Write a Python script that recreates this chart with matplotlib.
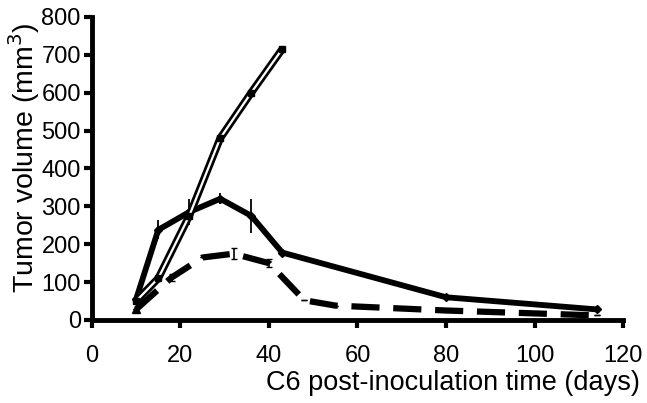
import numpy as np
import matplotlib.pyplot as plt

plt.rcParams['font.family'] = ['Liberation Sans', 'DejaVu Sans']

# control group (double line)
days_ctrl = [10, 15, 22, 29, 36, 43]
vol_ctrl = [50, 110, 275, 480, 600, 715]

# treated group 1 (solid)
days_t1 = [10, 15, 22, 29, 36, 43, 80, 114]
vol_t1 = [55, 238, 285, 320, 275, 178, 60, 28]
err_t1 = [0, 25, 35, 14, 45, 0, 0, 0]

# treated group 2 (dashed)
days_t2 = [10, 18, 25, 32, 40, 48, 55, 80, 114]
vol_t2 = [28, 112, 165, 175, 150, 52, 38, 25, 12]
err_t2 = [0, 10, 0, 15, 10, 0, 0, 0, 0]

fig = plt.figure(figsize=(6.47, 4.03), dpi=100)
ax = fig.add_axes([0.142, 0.206, 0.821, 0.752])

# double line: thick black with white core
ax.plot(days_ctrl, vol_ctrl, '-', color='black', lw=5.5, solid_capstyle='butt', zorder=3)
ax.plot(days_ctrl, vol_ctrl, '-', color='white', lw=1.6, solid_capstyle='butt', zorder=4)
ax.plot(days_ctrl, vol_ctrl, 's', color='black', ms=5, zorder=5)

ax.errorbar(days_t1, vol_t1, yerr=err_t1, fmt='-', color='black', lw=4.2,
            elinewidth=1.3, capsize=0, zorder=2)
ax.plot(days_t1, vol_t1, 'D', color='black', ms=4, zorder=2)

ax.errorbar(days_t2, vol_t2, yerr=err_t2, fmt='none', ecolor='black',
            elinewidth=1.2, capsize=2, zorder=2)
ax.plot(days_t2, vol_t2, color='black', lw=4.5, dashes=(4.5, 2.2), zorder=2)
ax.plot(days_t2[0], vol_t2[0], '^', color='black', ms=6, zorder=2)

ax.set_xlim(0, 120)
ax.set_ylim(0, 800)
ax.set_xticks(np.arange(0, 121, 20))
ax.set_yticks(np.arange(0, 801, 100))

for s in ['top', 'right']:
    ax.spines[s].set_visible(False)
for s in ['left', 'bottom']:
    ax.spines[s].set_linewidth(3.5)
ax.spines['left'].set_bounds(0, 800)

ax.tick_params(axis='x', direction='out', length=6, width=3, pad=12, labelsize=17)
ax.tick_params(axis='y', direction='out', length=6, width=3, pad=2, labelsize=17)

ax.set_ylabel('Tumor volume (mm$^3$)', fontsize=20.5)
ax.yaxis.set_label_coords(-0.094, 0.535)
ax.set_xlabel('C6 post-inoculation time (days)', fontsize=19.5, ha='right')
ax.xaxis.set_label_coords(1.032, -0.165)

fig.savefig('out.png', dpi=100)
